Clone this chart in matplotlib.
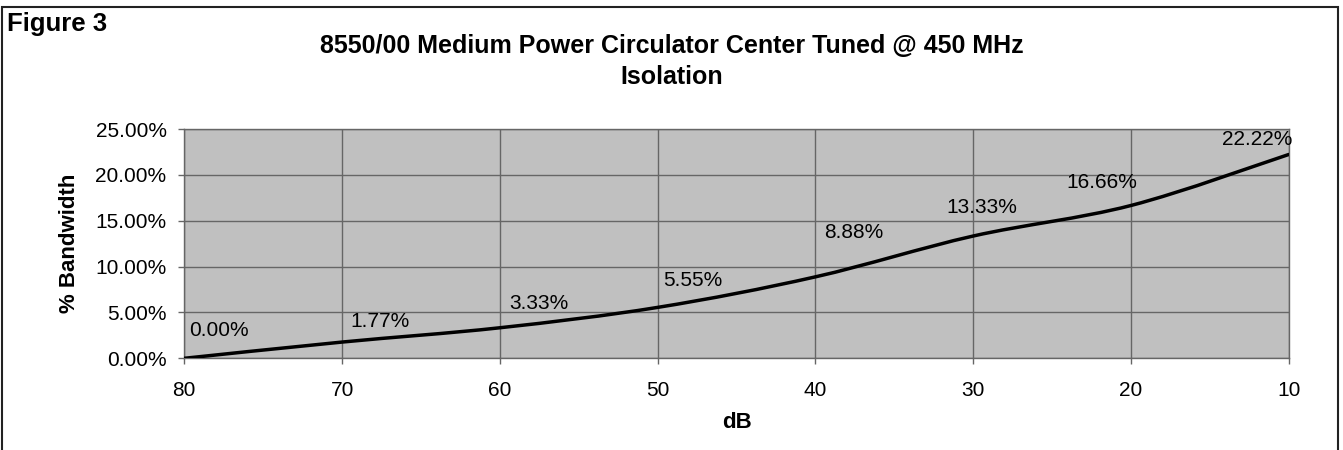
import matplotlib
matplotlib.use('Agg')
import matplotlib.pyplot as plt
from matplotlib.path import Path
from matplotlib.patches import PathPatch, Rectangle
from matplotlib.ticker import PercentFormatter

plt.rcParams['font.family'] = ['Liberation Sans', 'DejaVu Sans']

# data
isolation_db = [80, 70, 60, 50, 40, 30, 20, 10]
bandwidth_pct = [0.00, 1.77, 3.33, 5.55, 8.88, 13.33, 16.66, 22.22]
point_labels = ['0.00%', '1.77%', '3.33%', '5.55%', '8.88%', '13.33%', '16.66%', '22.22%']
y_ticks = [0, 5, 10, 15, 20, 25]

title_1 = '8550/00 Medium Power Circulator Center Tuned @ 450 MHz'
title_2 = 'Isolation'

W, H, DPI = 1343, 450, 100
fig = plt.figure(figsize=(W / DPI, H / DPI), dpi=DPI)
ax = fig.add_axes([184.3 / W, 1 - 358.3 / H, (1288.7 - 184.3) / W, (358.3 - 129) / H])

ax.set_facecolor('#c0c0c0')
ax.set_xlim(80, 10)
ax.set_ylim(0, 25)
ax.set_xticks(isolation_db)
ax.set_yticks(y_ticks)
ax.yaxis.set_major_formatter(PercentFormatter(100, decimals=2))
ax.grid(True, color='#666666', lw=1.0)
ax.set_axisbelow(True)
for s in ax.spines.values():
    s.set_color('#666666')
    s.set_linewidth(1.0)
ax.tick_params(colors='#666666', labelcolor='black', labelsize=15, length=4.3, width=1.0)
ax.tick_params(axis='y', pad=8.5)
ax.tick_params(axis='x', pad=12)

# smoothed line (catmull-rom style bezier, like excel's smoothing)
pts = list(zip(isolation_db, bandwidth_pct))
verts = [pts[0]]
codes = [Path.MOVETO]
n = len(pts)
for i in range(n - 1):
    p0 = pts[i - 1] if i > 0 else pts[i]
    p1 = pts[i]
    p2 = pts[i + 1]
    p3 = pts[i + 2] if i + 2 < n else pts[i + 1]
    c1 = (p1[0] + (p2[0] - p0[0]) / 6, p1[1] + (p2[1] - p0[1]) / 6)
    c2 = (p2[0] - (p3[0] - p1[0]) / 6, p2[1] - (p3[1] - p1[1]) / 6)
    verts += [c1, c2, p2]
    codes += [Path.CURVE4] * 3
ax.add_patch(PathPatch(Path(verts, codes), facecolor='none', edgecolor='black',
                       lw=2.5, capstyle='round', joinstyle='round', zorder=3))

# data labels, nudged like in the original
offsets = [(35, 28), (38, 21), (39, 24), (35, 27), (38, 44), (9, 29), (-29, 23), (-32, 15)]
for x, y, lab, (dx, dy) in zip(isolation_db, bandwidth_pct, point_labels, offsets):
    ax.annotate(lab, (x, y), xytext=(dx * 0.72, dy * 0.72), textcoords='offset points',
                ha='center', va='center', fontsize=15, zorder=4, annotation_clip=False)

ax.set_xlabel('dB', fontsize=16, fontweight='bold', labelpad=9)
ax.set_ylabel('% Bandwidth', fontsize=16, fontweight='bold', labelpad=11)

fig.text(0.5, 1 - 46 / H, title_1, ha='center', va='center', fontsize=18, fontweight='bold')
fig.text(0.5, 1 - 77 / H, title_2, ha='center', va='center', fontsize=18, fontweight='bold')
fig.text(7 / W, 1 - 24 / H, 'Figure 3', ha='left', va='center', fontsize=18.5, fontweight='bold')

# outer frame
fig.patches.append(Rectangle((1.5 / W, -0.05), (1338 - 1.5) / W, 1.05 - 7.5 / H,
                             transform=fig.transFigure, fill=False, edgecolor='#222222',
                             lw=1.5, clip_on=False))

fig.savefig('out.png', dpi=DPI)
